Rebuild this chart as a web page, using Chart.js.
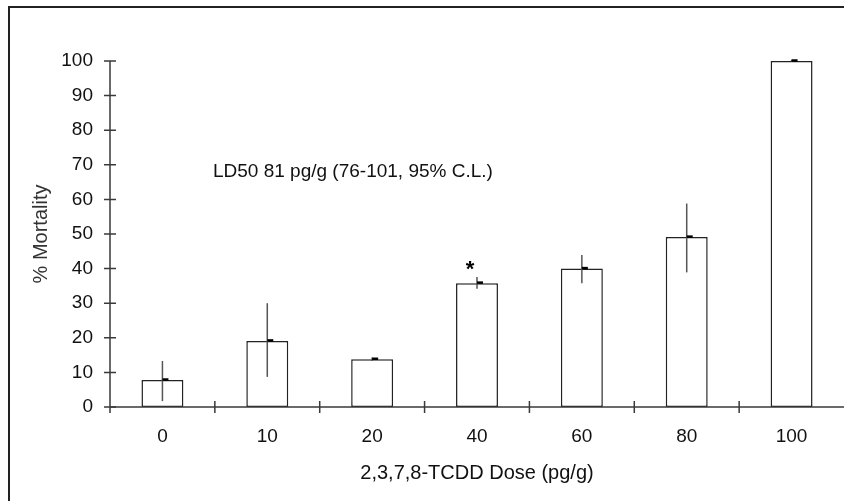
<!DOCTYPE html>
<html>
<head>
<meta charset="utf-8">
<title>TCDD mortality</title>
<script src="https://cdn.jsdelivr.net/npm/chart.js@4.4.0/dist/chart.umd.min.js"></script>
<style>
  html, body { margin: 0; padding: 0; background: #fff; overflow: hidden; }
  #wrap { position: relative; width: 844px; height: 501px; }
</style>
</head>
<body>
<div id="wrap"><canvas id="mortChart"></canvas></div>
<script>

// dose groups (pg/g) and % mortality
var doses = ['0', '10', '20', '40', '60', '80', '100'];
var mortality = [7.8, 19.1, 13.8, 35.8, 40.0, 49.1, 100];
var errLow = [1.7, 8.7, 13.3, 34.2, 35.8, 38.9, 99.8];
var errHigh = [13.3, 30.0, 14.3, 37.6, 43.9, 58.8, 100.3];
var significant = [false, false, false, true, false, false, false];

var yTicks = [0, 10, 20, 30, 40, 50, 60, 70, 80, 90, 100];
var noteText = 'LD50 81 pg/g (76-101, 95% C.L.)';
var xTitle = '2,3,7,8-TCDD Dose (pg/g)';
var yTitle = '% Mortality';

var fontName = "'Liberation Sans', Arial, sans-serif";


// frame, axes, crossing tick marks, error bars, asterisk and note
var extras = {
  id: 'extras',
  beforeDraw: function (chart) {
    var ctx = chart.ctx;
    ctx.save();
    ctx.fillStyle = '#fff';
    ctx.fillRect(0, 0, chart.width, chart.height);
    ctx.strokeStyle = '#222';
    ctx.lineWidth = 2;
    ctx.strokeRect(9, 7, chart.width + 20, chart.height + 20);
    ctx.restore();
  },
  afterDatasetsDraw: function (chart) {
    var ctx = chart.ctx;
    var xs = chart.scales.x;
    var ys = chart.scales.y;
    var area = chart.chartArea;
    var meta = chart.getDatasetMeta(0);

    ctx.save();

    // axes
    ctx.strokeStyle = '#3a3a3a';
    ctx.lineWidth = 1.5;
    ctx.beginPath();
    ctx.moveTo(area.left, ys.getPixelForValue(100));
    ctx.lineTo(area.left, area.bottom + 6);
    ctx.moveTo(area.left, area.bottom);
    ctx.lineTo(area.right, area.bottom);
    ctx.stroke();

    // y ticks cross the axis
    ctx.beginPath();
    for (var i = 0; i < yTicks.length; i++) {
      var ty = ys.getPixelForValue(yTicks[i]);
      ctx.moveTo(area.left - 6, ty);
      ctx.lineTo(area.left + 6, ty);
    }
    // x ticks between the groups
    for (var j = 1; j < doses.length; j++) {
      var tx = (xs.getPixelForValue(j - 1) + xs.getPixelForValue(j)) / 2;
      ctx.moveTo(tx, area.bottom - 6);
      ctx.lineTo(tx, area.bottom + 6);
    }
    ctx.stroke();

    // error bars + mean marks
    for (var k = 0; k < mortality.length; k++) {
      var bx = meta.data[k].x;
      ctx.strokeStyle = '#555';
      ctx.lineWidth = 1.5;
      ctx.beginPath();
      ctx.moveTo(bx, ys.getPixelForValue(errHigh[k]));
      ctx.lineTo(bx, ys.getPixelForValue(errLow[k]));
      ctx.stroke();

      ctx.strokeStyle = '#000';
      ctx.lineWidth = 2.5;
      ctx.beginPath();
      var my = ys.getPixelForValue(mortality[k]) - 0.5;
      ctx.moveTo(bx, my);
      ctx.lineTo(bx + 6, my);
      ctx.stroke();

      if (significant[k]) {
        ctx.fillStyle = '#000';
        ctx.font = 'bold 22px ' + fontName;
        ctx.textAlign = 'center';
        ctx.textBaseline = 'alphabetic';
        ctx.fillText('*', bx - 7, ys.getPixelForValue(errHigh[k]) - 1);
      }
    }

    // LD50 note
    ctx.fillStyle = '#111';
    ctx.font = '19px ' + fontName;
    ctx.textAlign = 'left';
    ctx.textBaseline = 'alphabetic';
    ctx.fillText(noteText, area.left + 103, ys.getPixelForValue(66.5));

    ctx.restore();
  }
};


var ctx = document.getElementById('mortChart').getContext('2d');
var myChart = new Chart(ctx, {
  type: 'bar',
  data: {
    labels: doses,
    datasets: [{
      label: '% Mortality',
      data: mortality,
      backgroundColor: '#fff',
      borderColor: '#222',
      borderWidth: 1.5,
      borderSkipped: false,
      barPercentage: 0.4,
      categoryPercentage: 1.0
    }]
  },
  options: {
    responsive: true,
    maintainAspectRatio: false,
    animation: false,
    events: [],
    layout: { padding: { top: 61, right: 0, left: 0, bottom: 0 } },
    plugins: {
      legend: { display: false },
      tooltip: { enabled: false }
    },
    scales: {
      x: {
        offset: true,
        grid: { display: false, drawTicks: false },
        border: { display: false },
        ticks: {
          color: '#111',
          padding: 18,
          font: { family: fontName, size: 19 }
        },
        title: {
          display: true,
          text: xTitle,
          color: '#111',
          padding: { top: 0, bottom: 16 },
          font: { family: fontName, size: 20 }
        },
        afterFit: function (scale) { scale.height = 94; }
      },
      y: {
        min: 0,
        max: 100,
        grid: { display: false, drawTicks: false },
        border: { display: false },
        ticks: {
          stepSize: 10,
          color: '#111',
          padding: 17,
          font: { family: fontName, size: 19 }
        },
        title: {
          display: true,
          text: yTitle,
          color: '#333',
          padding: { top: 29, bottom: 0 },
          font: { family: fontName, size: 20 }
        },
        afterFit: function (scale) { scale.width = 110; }
      }
    }
  },
  plugins: [extras]
});

</script>
</body>
</html>
